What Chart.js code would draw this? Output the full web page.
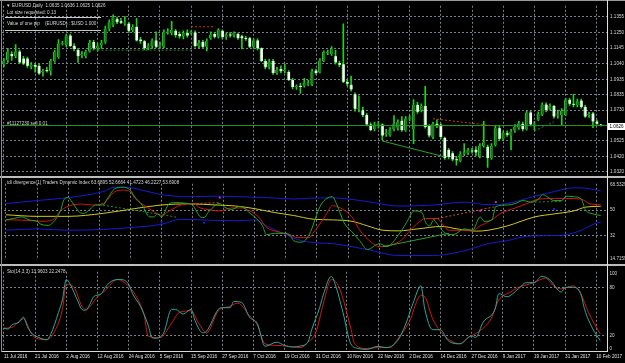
<!DOCTYPE html>
<html><head><meta charset="utf-8">
<script src="https://cdn.jsdelivr.net/npm/chart.js@4.4.1/dist/chart.umd.min.js"></script>
<style>
html,body{margin:0;padding:0;background:#000;width:625px;height:363px;overflow:hidden;position:relative}
canvas{position:absolute;left:0}
.ln{position:absolute;background:#bdbdbd}
</style></head><body>
<canvas id="main" width="625" height="178" style="top:0"></canvas>
<canvas id="tdi" width="625" height="88" style="top:178px"></canvas>
<canvas id="sto" width="625" height="97" style="top:266px"></canvas>
<div class="ln" style="left:0;top:0;width:625px;height:1px;background:#9a9a9a"></div>
<div class="ln" style="left:0;top:176px;width:625px;height:2px"></div>
<div class="ln" style="left:0;top:264px;width:625px;height:2px"></div>
<div class="ln" style="left:607px;top:0;width:1px;height:352px;background:#e0e0e0"></div>
<div class="ln" style="left:1px;top:0;width:1px;height:352px;background:#8a8a8a"></div>
<script>
// ---------- DATA ----------
const dates = ["11 Jul 2016","21 Jul 2016","2 Aug 2016","12 Aug 2016","24 Aug 2016","5 Sep 2016","15 Sep 2016","27 Sep 2016","7 Oct 2016","19 Oct 2016","31 Oct 2016","10 Nov 2016","22 Nov 2016","2 Dec 2016","14 Dec 2016","27 Dec 2016","9 Jan 2017","19 Jan 2017","31 Jan 2017","10 Feb 2017"];
const barsPerLabel = 8;

const open = [
1.1037,1.1062,1.1105,1.1090,1.1122,1.1075,1.1075,1.1020,1.1031,1.1026,
1.0984,1.0999,1.0990,1.1058,1.1084,1.1173,1.1164,1.1228,1.1160,1.1132,
1.1096,1.1090,1.1122,1.1185,1.1143,1.1164,1.1185,1.1274,1.1296,1.1338,
1.1323,1.1308,1.1308,1.1266,1.1287,1.1202,1.1190,1.1147,1.1158,1.1196,
1.1154,1.1154,1.1249,1.1245,1.1260,1.1238,1.1223,1.1245,1.1245,1.1249,
1.1158,1.1185,1.1154,1.1211,1.1238,1.1221,1.1260,1.1221,1.1236,1.1228,
1.1238,1.1223,1.1211,1.1211,1.1154,1.1196,1.1143,1.1058,1.1016,1.1058,
1.0978,1.1005,1.0990,1.0984,1.0931,1.0884,1.0893,1.0893,1.0899,1.0899,
1.0995,1.0984,1.1058,1.1111,1.1105,1.1090,1.1045,1.1037,1.0920,1.0899,
1.0836,1.0740,1.0730,1.0698,1.0634,1.0602,1.0634,1.0634,1.0571,1.0560,
1.0602,1.0613,1.0660,1.0592,1.0672,1.0602,1.0766,1.0730,1.0757,1.0624,
1.0550,1.0639,1.0634,1.0545,1.0465,1.0443,1.0401,1.0391,1.0439,1.0443,
1.0460,1.0465,1.0422,1.0490,1.0486,1.0411,1.0497,1.0609,1.0539,1.0575,
1.0560,1.0592,1.0613,1.0639,1.0602,1.0715,1.0634,1.0666,1.0698,1.0768,
1.0740,1.0757,1.0694,1.0698,1.0698,1.0800,1.0772,1.0762,1.0794,1.0751,
1.0698,1.0708,1.0655,1.0635];
const high = [
1.1075,1.1143,1.1122,1.1168,1.1132,1.1090,1.1084,1.1048,1.1041,1.1037,
1.1005,1.1016,1.1069,1.1132,1.1202,1.1190,1.1238,1.1238,1.1175,1.1143,
1.1122,1.1132,1.1196,1.1196,1.1175,1.1196,1.1291,1.1334,1.1366,1.1351,
1.1344,1.1355,1.1317,1.1302,1.1344,1.1217,1.1196,1.1175,1.1206,1.1253,
1.1185,1.1266,1.1274,1.1323,1.1270,1.1253,1.1260,1.1266,1.1260,1.1260,
1.1196,1.1196,1.1206,1.1253,1.1249,1.1274,1.1266,1.1245,1.1249,1.1253,
1.1245,1.1232,1.1223,1.1217,1.1206,1.1206,1.1147,1.1069,1.1069,1.1069,
1.1016,1.1026,1.1037,1.0995,1.0942,1.0899,1.0910,1.0942,1.0931,1.1005,
1.1005,1.1075,1.1126,1.1132,1.1154,1.1132,1.1058,1.1306,1.0931,1.0957,
1.0846,1.0826,1.0751,1.0708,1.0645,1.0651,1.0655,1.0639,1.0602,1.0613,
1.0694,1.0666,1.0687,1.0687,1.0694,1.0800,1.0783,1.0772,1.0889,1.0634,
1.0651,1.0666,1.0639,1.0550,1.0475,1.0454,1.0422,1.0454,1.0507,1.0475,
1.0475,1.0486,1.0507,1.0655,1.0497,1.0507,1.0624,1.0624,1.0592,1.0592,
1.0602,1.0634,1.0655,1.0651,1.0723,1.0723,1.0655,1.0719,1.0779,1.0779,
1.0772,1.0762,1.0730,1.0740,1.0809,1.0809,1.0836,1.0804,1.0804,1.0762,
1.0715,1.0715,1.0666,1.0636];
const low = [
1.1020,1.1048,1.1062,1.1079,1.1041,1.1033,1.1016,1.1005,1.0984,1.0969,
1.0957,1.0984,1.0963,1.1048,1.1075,1.1164,1.1154,1.1154,1.1126,1.1048,
1.1079,1.1079,1.1118,1.1132,1.1126,1.1143,1.1175,1.1260,1.1287,1.1308,
1.1308,1.1296,1.1249,1.1253,1.1190,1.1175,1.1132,1.1132,1.1143,1.1147,
1.1143,1.1147,1.1238,1.1232,1.1217,1.1211,1.1206,1.1217,1.1238,1.1151,
1.1147,1.1147,1.1126,1.1202,1.1211,1.1211,1.1206,1.1202,1.1217,1.1217,
1.1202,1.1139,1.1196,1.1147,1.1143,1.1132,1.1054,1.1005,1.1005,1.0969,
1.0969,1.0978,1.0978,1.0927,1.0872,1.0868,1.0842,1.0884,1.0893,1.0893,
1.0969,1.0978,1.1054,1.1101,1.1096,1.1037,1.1020,1.0914,1.0893,1.0857,
1.0723,1.0719,1.0687,1.0624,1.0592,1.0592,1.0609,1.0533,1.0554,1.0554,
1.0592,1.0596,1.0588,1.0588,1.0660,1.0507,1.0708,1.0719,1.0609,1.0550,
1.0539,1.0613,1.0539,1.0401,1.0405,1.0391,1.0363,1.0384,1.0426,1.0433,
1.0443,1.0426,1.0411,1.0482,1.0348,1.0401,1.0490,1.0528,1.0533,1.0554,
1.0465,1.0581,1.0602,1.0592,1.0596,1.0624,1.0596,1.0660,1.0694,1.0719,
1.0730,1.0677,1.0677,1.0630,1.0694,1.0762,1.0751,1.0751,1.0744,1.0681,
1.0681,1.0613,1.0634,1.0625];
const close = [
1.1058,1.1122,1.1090,1.1122,1.1048,1.1041,1.1026,1.1031,1.1020,1.0974,
1.0995,1.0990,1.1058,1.1118,1.1175,1.1177,1.1228,1.1158,1.1139,1.1090,
1.1105,1.1122,1.1181,1.1143,1.1160,1.1181,1.1274,1.1317,1.1351,1.1317,
1.1313,1.1317,1.1260,1.1287,1.1196,1.1190,1.1143,1.1160,1.1196,1.1154,
1.1164,1.1253,1.1253,1.1266,1.1232,1.1223,1.1245,1.1228,1.1253,1.1158,
1.1181,1.1154,1.1192,1.1234,1.1221,1.1266,1.1217,1.1234,1.1228,1.1245,
1.1211,1.1211,1.1206,1.1154,1.1196,1.1143,1.1058,1.1016,1.1054,1.0978,
1.1001,1.0990,1.0999,1.0931,1.0884,1.0889,1.0884,1.0914,1.0910,1.0990,
1.0978,1.1062,1.1118,1.1118,1.1139,1.1048,1.1033,1.0920,1.0906,1.0868,
1.0740,1.0744,1.0698,1.0634,1.0596,1.0634,1.0639,1.0560,1.0581,1.0600,
1.0639,1.0651,1.0596,1.0672,1.0681,1.0766,1.0719,1.0757,1.0617,1.0560,
1.0639,1.0630,1.0550,1.0411,1.0418,1.0401,1.0395,1.0439,1.0448,1.0465,
1.0454,1.0448,1.0492,1.0516,1.0411,1.0492,1.0609,1.0539,1.0577,1.0566,
1.0588,1.0619,1.0641,1.0602,1.0715,1.0634,1.0639,1.0704,1.0768,1.0730,
1.0757,1.0687,1.0702,1.0725,1.0800,1.0772,1.0766,1.0789,1.0751,1.0687,
1.0702,1.0655,1.0639,1.0626];

const priceTicks = [1.1355,1.1250,1.1145,1.1040,1.0935,1.0835,1.0730,1.0625,1.0525,1.0420,1.0320];
const orderPrice = 1.0627;
const priceDivGreenDot1 = [[24,1.1131],[48,1.1131]];
const priceDivRedDot1 = [[48,1.1287],[54,1.1287]];
const priceDivRedDot2 = [[110,1.0673],[126,1.0624]];
const priceDivGreen2 = [[97,1.0524],[113,1.0418]];
const priceDivGreenDot3 = [[136,1.0592],[141,1.0652]];

// Traders Dynamic Index
const tdiUpper = [[0,54.6],[8,56.7],[16,58.8],[25,63.0],[28,66.1],[31,66.1],[35,64.0],[40,60.9],[47,59.4],[54,59.8],[60,59.4],[67,58.8],[74,57.8],[78,58.4],[84,58.6],[93,56.0],[101,52.8],[110,53.6],[118,55.6],[124,53.8],[129,54.6],[136,59.8],[141,63.0],[146,65.7],[149,65.4],[153,63.7]];
const tdiLower = [[0,35.8],[8,36.8],[16,35.8],[25,36.4],[33,37.9],[40,40.0],[45,43.5],[50,43.1],[59,42.5],[64,43.1],[67,38.9],[72,32.7],[76,28.5],[81,26.8],[84,26.4],[93,22.2],[101,18.0],[110,18.0],[115,19.7],[119,22.2],[124,26.4],[129,28.5],[134,31.6],[139,32.0],[144,32.7],[148,35.8],[151,40.0],[153,41.5]];
const tdiBase = [[0,46.7],[8,45.6],[16,45.6],[25,47.7],[33,51.0],[40,53.6],[47,54.4],[54,53.6],[59,52.9],[64,51.0],[69,48.3],[74,46.2],[79,43.6],[84,43.1],[89,42.1],[93,38.9],[97,35.8],[101,35.4],[106,36.8],[112,38.5],[116,36.8],[121,35.2],[124,35.8],[129,38.9],[136,45.2],[141,47.3],[146,49.4],[149,52.0],[153,52.7]];
const tdiRsi = [[0,43.1],[2,44.1],[4,45.2],[6,43.1],[8,42.1],[9,40.0],[11,39.3],[12,41.0],[14,49.4],[15,57.7],[16,58.8],[17,55.6],[19,48.3],[20,47.7],[22,51.5],[23,53.6],[25,53.6],[26,57.7],[28,65.0],[30,66.1],[32,64.0],[33,59.8],[35,53.6],[37,45.2],[38,45.2],[39,47.3],[40,45.2],[42,54.6],[43,55.2],[47,54.6],[48,53.6],[49,49.4],[50,45.2],[51,44.8],[52,48.3],[54,53.6],[55,54.6],[56,52.5],[58,50.4],[60,52.5],[61,51.9],[63,47.3],[64,45.2],[66,38.9],[67,32.7],[69,33.7],[71,33.7],[73,32.7],[74,28.5],[76,27.4],[78,32.7],[81,53.6],[84,59.4],[85,54.6],[87,41.0],[89,34.7],[91,28.5],[93,22.2],[96,26.4],[98,24.3],[101,32.7],[103,41.0],[105,49.4],[107,48.3],[108,41.0],[109,38.9],[110,43.1],[111,40.0],[113,33.7],[115,32.7],[118,36.8],[120,35.8],[122,45.2],[123,42.1],[125,43.1],[126,52.5],[129,53.6],[131,54.6],[133,56.7],[135,55.6],[137,57.7],[138,60.9],[139,59.8],[141,56.7],[143,56.7],[144,59.8],[146,59.4],[148,57.7],[149,50.4],[151,47.3],[153,46.2]];
const tdiSignal = [[0,43.1],[2,43.1],[6,42.7],[9,42.1],[12,43.1],[14,49.4],[17,53.6],[20,54.2],[22,53.6],[25,54.6],[28,63.0],[30,64.0],[32,63.0],[33,58.8],[36,52.5],[39,47.3],[40,46.2],[42,49.4],[45,53.6],[48,54.6],[50,51.5],[52,50.4],[55,49.4],[58,51.5],[61,51.5],[62,50.4],[65,45.2],[67,37.9],[70,34.7],[73,32.7],[75,30.6],[78,30.6],[79,33.7],[82,45.2],[84,53.1],[86,51.5],[89,45.2],[91,35.8],[94,27.4],[96,24.3],[99,25.3],[102,29.5],[104,35.8],[107,43.1],[108,44.1],[111,44.1],[112,41.0],[114,35.8],[117,35.8],[120,35.8],[122,38.9],[125,43.1],[127,47.3],[131,51.5],[134,54.6],[137,57.7],[141,58.2],[144,58.2],[148,57.7],[150,54.6],[153,53.7]];
const tdiTickValues = [68.5329,50,32,14.7159];
const tdiLevels = [50,32];
const tdiDivGreenDot1 = [[25,53.5],[44,45.0]];
const tdiDivRedDot1 = [[48,54.6],[55,55.2]];
const tdiDivRedDot2 = [[110,43.5],[126,52.5]];
const tdiDivGreen2 = [[97,24.3],[114,33.7]];
const tdiDivGreenDot3 = [[135,55.6],[143,56.1]];
const tdiBlueMarks = [[40,41.7],[51,41.0],[141,50.8]];
const tdiMagentaMarks = [[55,58.8],[122,49.4],[126,55.6]];

// Stochastic (14,3,3)
const stoMain = [[0,29.4],[1,28.3],[2,33.4],[4,37.3],[5,43.2],[6,31.5],[7,23.6],[9,17.7],[11,15.0],[12,21.6],[14,49.1],[15,64.8],[16,90.3],[17,84.4],[19,62.8],[20,53.0],[21,51.8],[22,58.9],[23,68.7],[25,72.6],[26,80.5],[28,89.1],[30,90.3],[32,84.4],[33,72.6],[35,56.9],[37,33.4],[38,17.6],[39,16.9],[41,23.6],[43,53.0],[44,53.0],[46,47.1],[48,53.0],[49,39.3],[51,23.6],[52,25.6],[55,53.0],[56,55.0],[58,55.0],[59,62.8],[61,61.6],[63,43.2],[65,35.4],[67,6.8],[70,11.9],[72,7.9],[74,5.9],[76,7.0],[78,12.0],[79,28.0],[81,55.0],[82,72.0],[84,94.2],[85,84.4],[87,49.1],[89,9.9],[91,4.0],[93,2.8],[96,6.8],[98,5.1],[101,13.8],[103,33.4],[105,60.8],[107,82.4],[108,53.0],[110,27.5],[112,27.5],[114,13.8],[117,9.9],[120,19.7],[121,17.8],[123,37.3],[126,53.0],[127,72.6],[129,68.7],[132,78.5],[134,86.3],[136,86.3],[138,94.2],[140,90.3],[143,74.6],[144,80.5],[146,80.5],[148,72.6],[149,53.0],[151,29.5],[153,14.0]];
const stoSignal = [[0,29.4],[2,30.3],[5,41.2],[7,23.6],[8,17.6],[11,15.0],[13,25.5],[15,53.0],[16,84.4],[18,80.5],[20,56.9],[21,53.0],[24,68.7],[26,76.5],[29,90.3],[31,86.3],[34,68.7],[36,45.2],[37,19.6],[40,17.6],[43,35.4],[45,49.1],[48,51.1],[50,35.4],[52,23.6],[55,51.1],[58,56.9],[60,60.8],[63,45.2],[65,33.4],[67,9.9],[70,7.9],[73,6.8],[76,5.1],[78,11.9],[80,23.6],[82,60.8],[84,90.3],[86,80.5],[89,29.4],[90,9.9],[93,4.0],[96,5.1],[99,5.1],[101,15.7],[104,37.3],[107,70.7],[108,68.7],[110,41.2],[112,25.5],[114,15.7],[117,9.9],[119,17.6],[122,25.5],[125,41.2],[127,64.8],[130,74.6],[132,80.5],[136,86.3],[139,92.2],[141,82.4],[143,78.5],[146,82.4],[148,72.6],[150,49.1],[153,22.2]];
const stoTickValues = [100,80,20,0];
const stoLevels = [80,20];

// ---------- STYLE / LAYOUT ----------
const GRID = '#76818d', TXT = '#d6d6d6', WICK = '#1ed21e', BULL = '#1c761c';
const FONT = '"Liberation Sans", Arial, sans-serif';
const FS = 4.6;
const X_MIN = -0.5, X_MAX = 154.6;
Chart.defaults.font.family = FONT;
Chart.defaults.font.size = FS;
Chart.defaults.color = TXT;
const last = close.length - 1;
const xy = a => a.map(([x, y]) => ({x, y}));

function xAxis(showLabels, h) {
  return {
    type: 'linear', min: X_MIN, max: X_MAX, offset: false,
    afterBuildTicks: s => { s.ticks = dates.map((d, k) => ({value: k * barsPerLabel})); },
    afterFit: s => { s.height = h; },
    grid: {color: GRID, lineWidth: 1, drawTicks: false, offset: false},
    border: {display: showLabels, color: '#d8d8d8', dash: [2, 2]},
    ticks: {display: showLabels, autoSkip: false, maxRotation: 0, align: 'start', padding: 2.6,
      color: '#e2e2e2', font: {size: FS}, callback: (v, i) => dates[i]}
  };
}
function lineDs(data, color, dash, order) {
  return {type: 'line', data: xy(data), borderColor: color, borderWidth: 1, borderDash: dash || [],
    pointRadius: 0, cubicInterpolationMode: 'monotone', order: order || 1, fill: false};
}
function markDs(data, color) {
  return {type: 'line', data: xy(data), showLine: false, pointRadius: 1.3, pointStyle: 'rect',
    pointBackgroundColor: color, pointBorderWidth: 0, order: 0};
}
function textPlugin(lines, extra) {
  return {id: 'txt', afterDraw(chart) {
    const c = chart.ctx; c.save();
    c.font = FS + 'px ' + FONT; c.textBaseline = 'middle'; c.fillStyle = TXT;
    lines.forEach(([t, x, y]) => c.fillText(t, x, y));
    if (extra) extra(chart, c);
    c.restore();
  }};
}
const baseOpts = {responsive: false, animation: false, devicePixelRatio: 1,
  plugins: {legend: {display: false}, tooltip: {enabled: false}}};

// ---------- MAIN PRICE PANEL ----------
const fmt4 = v => v.toFixed(4);
new Chart(document.getElementById('main'), {
  type: 'bar',
  data: {datasets: [
    {type: 'bar', data: high.map((h, i) => ({x: i, y: [low[i], h]})), backgroundColor: WICK,
      barThickness: 1, grouped: false, order: 6},
    {type: 'bar', data: open.map((o, i) => ({x: i, y: [o, close[i]]})),
      backgroundColor: c => close[c.dataIndex] >= open[c.dataIndex] ? BULL : '#ffffff',
      borderColor: WICK, borderWidth: {left: 1, right: 0, top: 0, bottom: 0}, borderSkipped: false,
      barThickness: 3, minBarLength: 1, grouped: false, order: 5},
    lineDs([[X_MIN, orderPrice], [X_MAX, orderPrice]], '#1e961e', null, 4),
    lineDs(priceDivGreenDot1, '#2a8a2a', [2, 2], 3),
    lineDs(priceDivRedDot1, '#c83c14', [2, 2], 3),
    lineDs(priceDivRedDot2, '#c83c14', [2, 2], 3),
    lineDs(priceDivGreen2, '#2aa02a', null, 3),
    lineDs(priceDivGreenDot3, '#2a8a2a', [2, 2], 3)
  ]},
  options: {...baseOpts,
    layout: {padding: {left: 2, right: 0, top: 2, bottom: 2}},
    scales: {
      x: xAxis(false, 0),
      y: {position: 'right', min: 1.03154, max: 1.14272,
        afterBuildTicks: s => { s.ticks = priceTicks.map(v => ({value: v})); },
        afterFit: s => { s.width = 18; },
        grid: {color: GRID, drawTicks: false},
        border: {display: false, dash: [2, 2]},
        ticks: {padding: 3, autoSkip: false, font: {size: FS}, color: TXT, callback: v => fmt4(v)}}
    }},
  plugins: [textPlugin([
    ['EURUSD,Daily  ' + [open[last], high[last], low[last], close[last]].map(fmt4).join(' '), 12, 6],
    ['Lot size requested: 0.13', 7, 13],
    ['Value of one pip', 7, 24],
    ['(EURUSD) : $USD 1.000', 45, 24],
    ['#11127230 sell 0.01', 7, 124]
  ], (chart, c) => {
    c.fillText('\u25BC', 6, 6);
    c.strokeStyle = '#c8c8c8'; c.lineWidth = 1;
    c.beginPath(); c.moveTo(5, 17.5); c.lineTo(101, 17.5); c.moveTo(5, 30.5); c.lineTo(101, 30.5); c.stroke();
    const y = chart.scales.y.getPixelForValue(close[last]);
    c.fillStyle = '#ffffff'; c.fillRect(608, Math.round(y) - 3, 17, 7);
    c.fillStyle = '#000000'; c.fillText(fmt4(close[last]), 609.5, Math.round(y) + 0.5);
  })]
});

// ---------- TDI PANEL ----------
const tdiMin = tdiTickValues[3], tdiMax = tdiTickValues[0];
new Chart(document.getElementById('tdi'), {
  type: 'line',
  data: {datasets: [
    lineDs(tdiUpper, '#1a1ad2', null, 5),
    lineDs(tdiLower, '#1a1ad2', null, 5),
    lineDs(tdiBase, '#d2c81e', null, 4),
    lineDs(tdiSignal, '#d21414', null, 3),
    lineDs(tdiRsi, '#1eaa1e', null, 2),
    lineDs(tdiDivGreenDot1, '#2a8a2a', [2, 2], 1),
    lineDs(tdiDivRedDot1, '#d2501e', [2, 2], 1),
    lineDs(tdiDivRedDot2, '#d2501e', [2, 2], 1),
    lineDs(tdiDivGreen2, '#2aa02a', null, 1),
    lineDs(tdiDivGreenDot3, '#2a8a2a', [2, 2], 1),
    markDs(tdiBlueMarks, '#2020ff'),
    markDs(tdiMagentaMarks, '#ff20ff')
  ]},
  options: {...baseOpts,
    layout: {padding: {left: 2, right: 0, top: 1.5, bottom: 1}},
    scales: {
      x: xAxis(false, 0),
      y: {position: 'right', min: tdiMin, max: tdiMax,
        afterBuildTicks: s => { s.ticks = tdiTickValues.map((v, k) => ({value: k === 0 ? v - 0.8 : k === 3 ? v + 1.3 : v})); },
        afterFit: s => { s.width = 18; },
        grid: {drawTicks: false, color: c => (c.tick && tdiLevels.includes(c.tick.value)) ? GRID : 'rgba(0,0,0,0)'},
        border: {display: false, dash: [2, 2]},
        ticks: {padding: 3, autoSkip: false, font: {size: FS}, color: TXT,
          callback: (v, i) => String(tdiTickValues[i])}}
    }},
  plugins: [textPlugin([
    ['tdi divergence(1) Traders Dynamic Index 63.6895 52.6664 41.4723 46.2227 53.6908', 7, 4.5]
  ])]
});

// ---------- STOCHASTIC PANEL ----------
new Chart(document.getElementById('sto'), {
  type: 'line',
  data: {datasets: [
    lineDs(stoSignal, '#dc1414', null, 2),
    lineDs(stoMain, '#23aaa0', null, 1)
  ]},
  options: {...baseOpts,
    layout: {padding: {left: 2, right: 0, top: 0.7, bottom: 0}},
    scales: {
      x: xAxis(true, 11.3),
      y: {position: 'right', min: 0, max: 100,
        afterBuildTicks: s => { s.ticks = stoTickValues.map(v => ({value: v === 100 ? 97.4 : v === 0 ? 3.6 : v})); },
        afterFit: s => { s.width = 18; },
        grid: {drawTicks: false, color: c => (c.tick && stoLevels.includes(c.tick.value)) ? GRID : 'rgba(0,0,0,0)'},
        border: {display: false, dash: [2, 2]},
        ticks: {padding: 3, autoSkip: false, font: {size: FS}, color: TXT,
          callback: (v, i) => String(stoTickValues[i])}}
    }},
  plugins: [textPlugin([
    ['Sto(14,3,3) 13.9603 22.2478', 7, 6]
  ])]
});
</script>
</body></html>
